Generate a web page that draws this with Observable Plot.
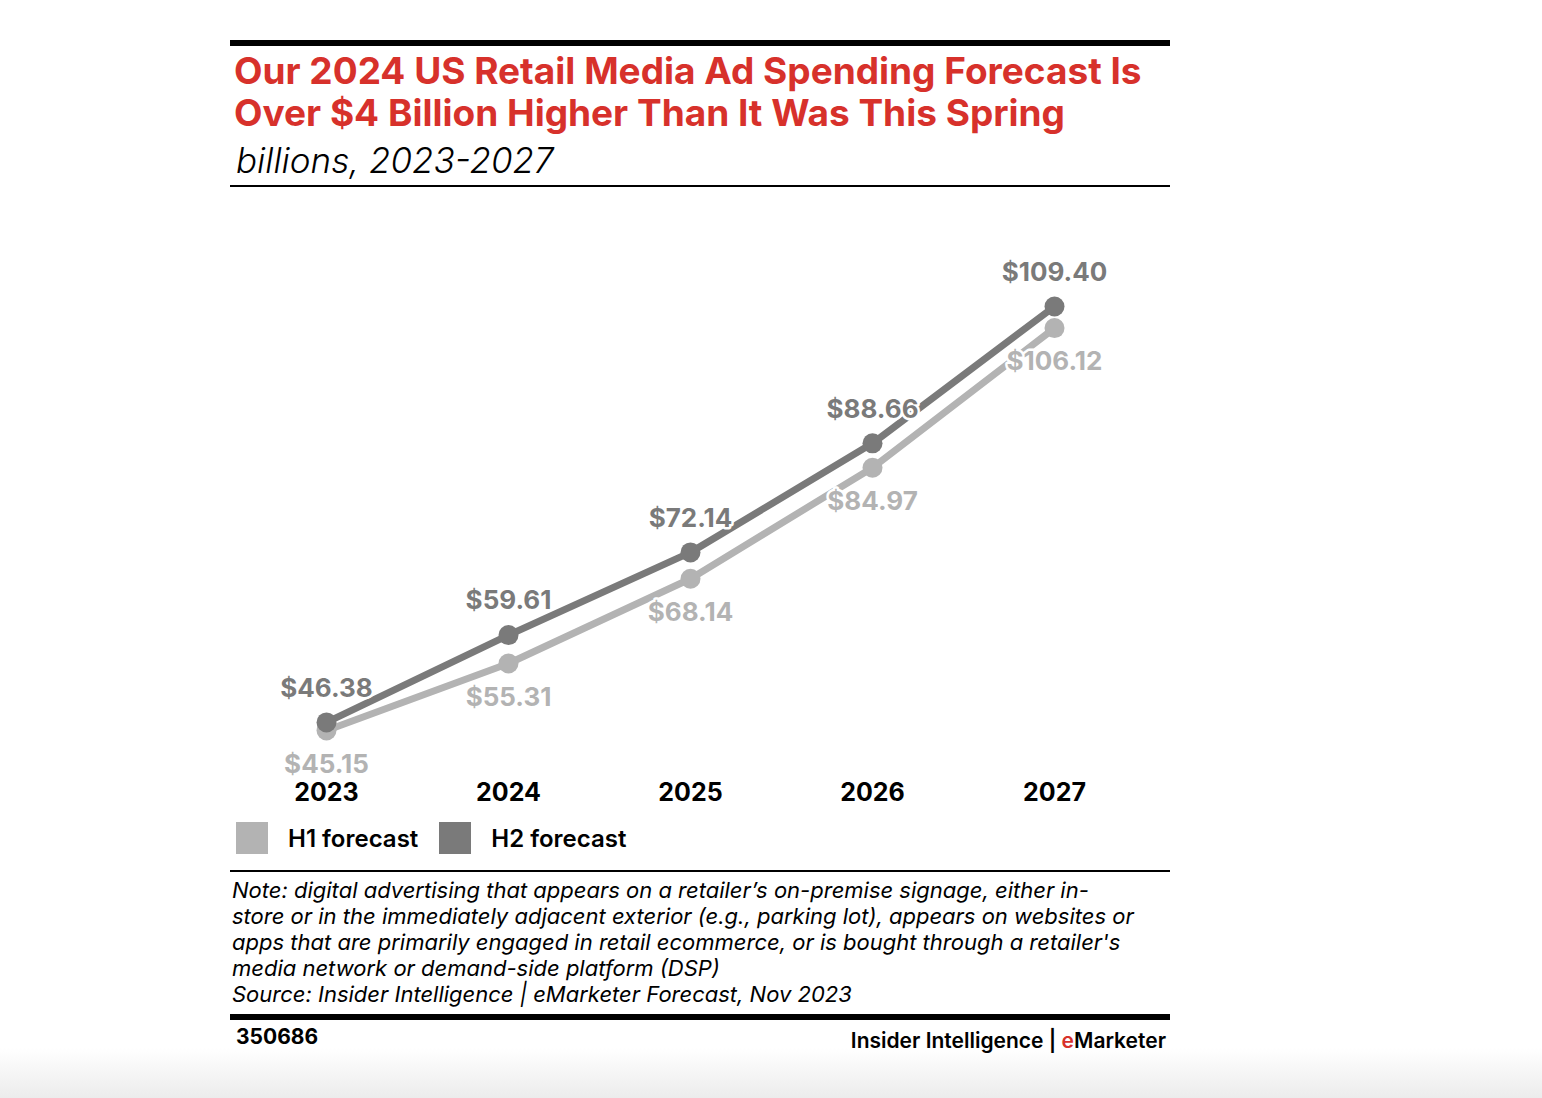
<!DOCTYPE html>
<html>
<head>
<meta charset="utf-8">
<script src="https://cdn.jsdelivr.net/npm/d3@7"></script>
<script src="https://cdn.jsdelivr.net/npm/@observablehq/plot@0.6"></script>
<style>
  html, body { margin: 0; padding: 0; background: #fff; width: 1542px; height: 1098px; overflow: hidden; }
  body { position: relative; font-family: Inter, "Noto Sans", sans-serif; }
  #card { position: absolute; left: 230px; top: 40px; width: 940px; }
  .topbar { height: 6px; background: #000; }
  h1 { margin: 4px 0 0 4px; color: #d7312b; font-size: 37px; line-height: 42px; font-weight: 700; }
  .sub { margin: 4px 0 0 6px; font-size: 35px; font-style: italic; font-weight: 300; line-height: 44px; }
  .rule { height: 2px; background: #000; margin-top: 3px; }
  #chart { height: 625px; margin-top: 3px; }
  .legend { display: flex; align-items: center; height: 34px; margin-top: 6px; margin-left: 6px; font-size: 24px; font-weight: 600; }
  .sw { width: 32px; height: 32px; margin-right: 20px; }
  .item { display: flex; align-items: center; margin-right: 21px; }
  .rule2 { height: 2px; background: #000; margin-top: 15px; }
  .note { margin: 5px 0 0 2px; font-style: italic; font-size: 22px; line-height: 26px; font-weight: 400; }
  .botbar { height: 6px; background: #000; margin-top: 7px; }
  .foot { display: flex; justify-content: space-between; margin-top: 4px; font-size: 21px; font-weight: 700; height: 30px; }
  .foot .id { margin-left: 6px; }
  .foot .brand { margin-right: 4px; font-weight: 600; margin-top: 4px; }
  .shade { position: absolute; left: 0; right: 0; bottom: 0; height: 50px; background: linear-gradient(to bottom, rgba(236,236,236,0), rgba(236,236,236,1)); }
</style>
</head>
<body>
<div class="shade"></div>
<div id="card">
  <div class="topbar"></div>
  <h1>Our 2024 US Retail Media Ad Spending Forecast Is<br>Over $4 Billion Higher Than It Was This Spring</h1>
  <div class="sub">billions, 2023-2027</div>
  <div class="rule"></div>
  <div id="chart"></div>
  <div class="legend" id="legend"></div>
  <div class="rule2"></div>
  <div class="note">Note: digital advertising that appears on a retailer’s on-premise signage, either in-<br>store or in the immediately adjacent exterior (e.g., parking lot), appears on websites or<br>apps that are primarily engaged in retail ecommerce, or is bought through a retailer's<br>media network or demand-side platform (DSP)<br>Source: Insider Intelligence | eMarketer Forecast, Nov 2023</div>
  <div class="botbar"></div>
  <div class="foot"><span class="id">350686</span><span class="brand">Insider Intelligence | <span style="color:#d7312b">e</span>Marketer</span></div>
</div>
<script>
const years = ["2023", "2024", "2025", "2026", "2027"];
const h1Values = [45.15, 55.31, 68.14, 84.97, 106.12];
const h2Values = [46.38, 59.61, 72.14, 88.66, 109.40];
const seriesNames = ["H1 forecast", "H2 forecast"];
const seriesColors = ["#b3b3b3", "#7a7a7a"];

const data = [];
years.forEach((y, i) => {
  data.push({year: y, value: h1Values[i], series: seriesNames[0]});
  data.push({year: y, value: h2Values[i], series: seriesNames[1]});
});
const h1 = data.filter(d => d.series === seriesNames[0]);
const h2 = data.filter(d => d.series === seriesNames[1]);
const fmt = v => "$" + v.toFixed(2);

const chart = Plot.plot({
  width: 940,
  height: 625,
  marginLeft: 96,
  marginRight: 116,
  marginTop: 79,
  marginBottom: 51,
  style: {fontFamily: "Inter, sans-serif", background: "transparent", overflow: "visible"},
  x: {type: "point", domain: years, padding: 0},
  y: {domain: [40, 115], axis: null},
  color: {domain: seriesNames, range: seriesColors},
  marks: [
    Plot.axisX({tickSize: 0, tickPadding: 19, fontSize: 25, fontWeight: 700, fill: "#000", label: null}),
    Plot.line(h1, {x: "year", y: "value", stroke: "series", strokeWidth: 7}),
    Plot.dot(h1, {x: "year", y: "value", fill: "series", r: 10}),
    Plot.line(h2, {x: "year", y: "value", stroke: "series", strokeWidth: 7}),
    Plot.dot(h2, {x: "year", y: "value", fill: "series", r: 10}),
    Plot.text(h2, {x: "year", y: "value", text: d => fmt(d.value), dy: -34, fill: seriesColors[1], fontSize: 26, fontWeight: 700, stroke: "white", strokeWidth: 5}),
    Plot.text(h1, {x: "year", y: "value", text: d => fmt(d.value), dy: 34, fill: seriesColors[0], fontSize: 26, fontWeight: 700, stroke: "white", strokeWidth: 5})
  ]
});
document.getElementById("chart").appendChild(chart);

const legend = document.getElementById("legend");
seriesNames.forEach((s, i) => {
  const it = document.createElement("div");
  it.className = "item";
  it.innerHTML = `<div class="sw" style="background:${seriesColors[i]}"></div><span>${s}</span>`;
  legend.appendChild(it);
});
</script>
</body>
</html>
